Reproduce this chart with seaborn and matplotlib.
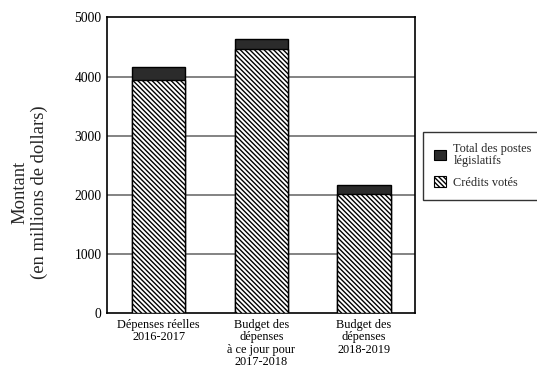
import matplotlib
matplotlib.use("Agg")
import matplotlib.pyplot as plt
import seaborn as sns
import pandas as pd
from matplotlib.patches import Patch

categories = ["Dépenses réelles\n2016-2017",
              "Budget des\ndépenses\nà ce jour pour\n2017-2018",
              "Budget des\ndépenses\n2018-2019"]
credits_votes = [3940, 4460, 2015]
postes_legislatifs = [215, 175, 155]
yticks = [0, 1000, 2000, 3000, 4000, 5000]

totals = [a + b for a, b in zip(credits_votes, postes_legislatifs)]
df = pd.DataFrame({"cat": categories, "vote": credits_votes, "total": totals})

sns.set_style("white")
plt.rcParams["font.family"] = ["Liberation Serif", "DejaVu Serif"]
plt.rcParams["hatch.linewidth"] = 1.0
plt.rcParams["hatch.color"] = "black"

HATCH = "\\" * 7

fig = plt.figure(figsize=(5.37, 3.69), dpi=100)
ax = fig.add_axes([0.1998, 0.151, 0.5736, 0.802])

dark = "#2b2b2b"
sns.barplot(data=df, x="cat", y="total", color=dark, width=0.52,
            edgecolor="black", linewidth=1.0, saturation=1, ax=ax, zorder=3)
n_before = len(ax.patches)
sns.barplot(data=df, x="cat", y="vote", color="white", width=0.52,
            edgecolor="black", linewidth=1.0, saturation=1, ax=ax, zorder=4)
for p in ax.patches[n_before:]:
    p.set_hatch(HATCH)
    p.set_facecolor("white")
    p.set_edgecolor("black")

ax.set_xlim(-0.5, 2.5)
ax.set_ylim(0, 5000)
ax.set_yticks(yticks)
ax.set_yticklabels([str(t) for t in yticks])
ax.set_xlabel("")
ax.set_ylabel("")
for y in yticks[1:-1]:
    ax.axhline(y, color="#6e6e6e", lw=1.2, zorder=1)
ax.tick_params(axis="both", length=0, colors="black")
ax.tick_params(axis="x", pad=4, labelsize=8.8)
ax.tick_params(axis="y", pad=4, labelsize=9.8)
for lbl in ax.get_xticklabels():
    lbl.set_linespacing(1.05)
for s in ax.spines.values():
    s.set_visible(True)
    s.set_color("black")
    s.set_linewidth(1.2)

fig.text(30 / 537, 1 - 192 / 369, "Montant\n(en millions de dollars)",
         rotation=90, ha="center", va="center", multialignment="center",
         fontsize=13.4, linespacing=1.15)

handles = [Patch(facecolor=dark, edgecolor="black", linewidth=0.8),
           Patch(facecolor="white", edgecolor="black", hatch=HATCH, linewidth=0.8)]
leg = fig.legend(handles, ["Total des postes\nlégislatifs", "Crédits votés"],
                 loc="upper left", bbox_to_anchor=(423.3 / 537, 1 - 131.7 / 369),
                 fontsize=8.8, frameon=True, fancybox=False, edgecolor="black",
                 handlelength=0.95, handleheight=0.95, handletextpad=0.6,
                 borderpad=0.9, labelspacing=0.8, borderaxespad=0)
leg.get_frame().set_linewidth(1.0)
for t in leg.get_texts():
    t.set_linespacing(1.0)

fig.savefig("out.png", dpi=100)
